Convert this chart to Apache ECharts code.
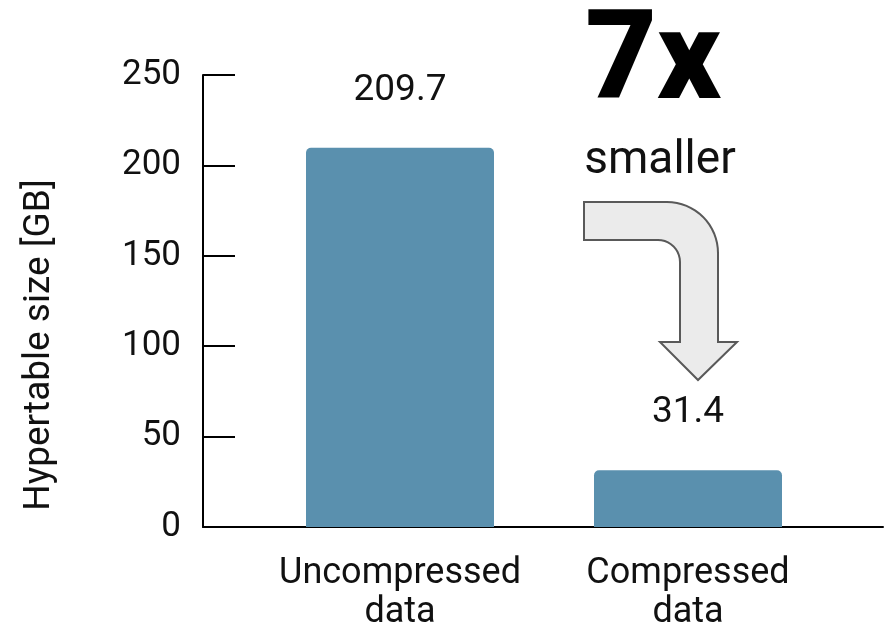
<!DOCTYPE html>
<html>
<head>
<meta charset="utf-8">
<script src="https://cdn.jsdelivr.net/npm/echarts@6/dist/echarts.min.js"></script>
<style>
  html, body { margin: 0; padding: 0; background: #fff; }
  #main { width: 891px; height: 630px; }
</style>
</head>
<body>
<div id="main"></div>
<script>
var categories = ['Uncompressed\ndata', 'Compressed\ndata'];
var sizes = [209.7, 31.4];
var yTicks = [0, 50, 100, 150, 200, 250];

var chart = echarts.init(document.getElementById('main'));

var font = 'Roboto, "Liberation Sans", sans-serif';

// bent arrow outline (decoration), corner arcs sampled into points
function arcPts(cx, cy, r, a0, a1, n) {
  var pts = [];
  for (var i = 0; i <= n; i++) {
    var a = a0 + (a1 - a0) * i / n;
    pts.push([cx + r * Math.cos(a), cy + r * Math.sin(a)]);
  }
  return pts;
}
var arrowPts = [[584, 202]]
  .concat(arcPts(667, 253, 51, -Math.PI / 2, 0, 16))
  .concat([[718, 342], [737, 342], [698, 380], [660, 342], [680, 342]])
  .concat(arcPts(658, 262, 22, 0, -Math.PI / 2, 10))
  .concat([[584, 240]]);

var option = {
  animation: false,
  grid: [
    // frame: y axis and the long x axis line
    { left: 203, right: 8, top: 75, bottom: 103, containLabel: false, outerBoundsMode: 'none' },
    // bars
    { left: 256, width: 576, top: 75, bottom: 103, containLabel: false, outerBoundsMode: 'none' }
  ],
  xAxis: [
    {
      gridIndex: 0,
      type: 'category',
      data: categories,
      axisLine: { lineStyle: { color: '#000', width: 2 } },
      axisTick: { show: false },
      axisLabel: { show: false },
      splitLine: { show: false }
    },
    {
      gridIndex: 1,
      type: 'category',
      data: categories,
      axisLine: { show: false },
      axisTick: { show: false },
      axisLabel: {
        interval: 0,
        color: '#111',
        fontFamily: font,
        fontSize: 36,
        lineHeight: 39,
        margin: 27
      }
    }
  ],
  yAxis: [
    {
      gridIndex: 0,
      type: 'value',
      min: yTicks[0],
      max: yTicks[yTicks.length - 1],
      interval: 50,
      axisLine: { show: true, lineStyle: { color: '#000', width: 2 } },
      axisTick: { show: true, inside: true, length: 32, lineStyle: { color: '#000', width: 2 } },
      axisLabel: { color: '#111', fontFamily: font, fontSize: 35, margin: 22 },
      splitLine: { show: false }
    },
    {
      gridIndex: 1,
      type: 'value',
      min: yTicks[0],
      max: yTicks[yTicks.length - 1],
      show: false
    }
  ],
  series: [{
    type: 'bar',
    xAxisIndex: 1,
    yAxisIndex: 1,
    data: sizes,
    barWidth: 188,
    itemStyle: { color: '#5a90ae', borderRadius: [5, 5, 0, 0] },
    label: {
      show: true,
      position: 'top',
      distance: 39,
      color: '#111',
      fontFamily: font,
      fontSize: 37
    }
  }],
  graphic: [
    {
      type: 'text',
      x: 40, y: 345,
      rotation: Math.PI / 2,
      style: {
        text: 'Hypertable size [GB]',
        fill: '#111',
        font: '37px ' + font,
        align: 'center',
        verticalAlign: 'middle'
      }
    },
    {
      type: 'text',
      x: 653, y: 67,
      style: {
        text: '7x',
        fill: '#000',
        font: '900 124px ' + font,
        align: 'center',
        verticalAlign: 'middle'
      }
    },
    {
      type: 'text',
      x: 660, y: 161,
      style: {
        text: 'smaller',
        fill: '#111',
        font: '46px ' + font,
        align: 'center',
        verticalAlign: 'middle'
      }
    },
    {
      type: 'polygon',
      shape: { points: arrowPts },
      style: { fill: '#ebebeb', stroke: '#595959', lineWidth: 2 }
    }
  ]
};

chart.setOption(option);
</script>
</body>
</html>
